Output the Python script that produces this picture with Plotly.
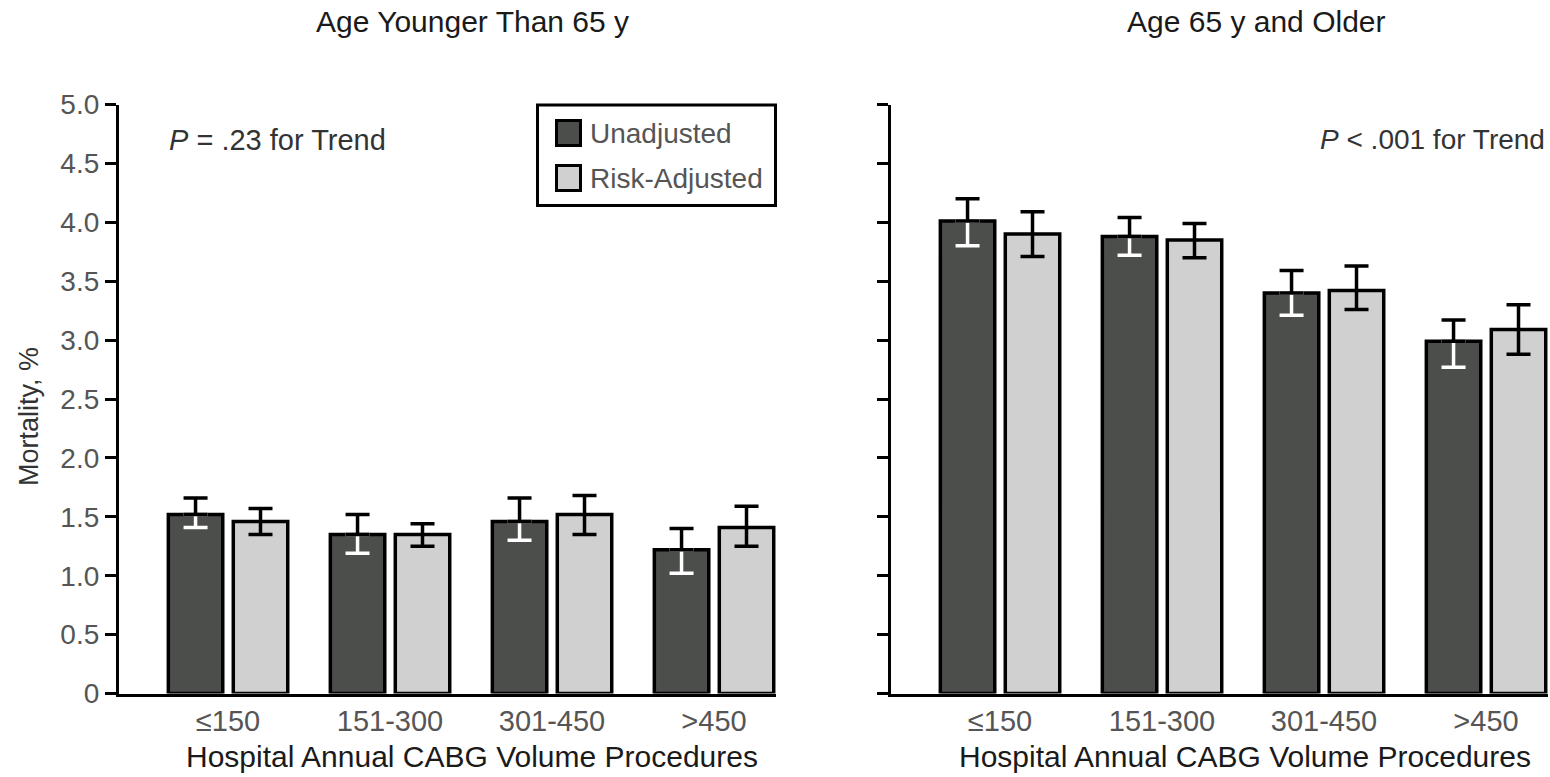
import plotly.graph_objects as go

# Hospital annual CABG volume categories
categories = ["≤150", "151-300", "301-450", ">450"]

# Mortality (%) with 95% CI, patients younger than 65 y
young_unadj = [1.52, 1.35, 1.46, 1.22]
young_unadj_lo = [1.41, 1.19, 1.30, 1.02]
young_unadj_hi = [1.66, 1.52, 1.66, 1.40]
young_risk = [1.46, 1.35, 1.52, 1.41]
young_risk_lo = [1.35, 1.25, 1.35, 1.25]
young_risk_hi = [1.57, 1.44, 1.68, 1.59]

# Mortality (%) with 95% CI, patients 65 y and older
old_unadj = [4.01, 3.88, 3.40, 2.99]
old_unadj_lo = [3.80, 3.72, 3.21, 2.77]
old_unadj_hi = [4.20, 4.04, 3.59, 3.17]
old_risk = [3.90, 3.85, 3.42, 3.09]
old_risk_lo = [3.71, 3.70, 3.26, 2.88]
old_risk_hi = [4.09, 3.99, 3.63, 3.30]

y_ticks = [0, 0.5, 1.0, 1.5, 2.0, 2.5, 3.0, 3.5, 4.0, 4.5, 5.0]
y_tick_text = ["0", "0.5", "1.0", "1.5", "2.0", "2.5", "3.0", "3.5", "4.0", "4.5", "5.0"]

DARK = "#4c4e4b"
LIGHT = "#d0d0d0"
FONT = "Liberation Sans, Arial, Helvetica, sans-serif"
W, H = 1550, 777

ERR_T = 3.5
ERR_W = 12
OUTLINE = 3.5


def px(x):
    return x / W


def py(y):
    return 1 - y / H


fig = go.Figure()


def add_panel(xa, ya, unadj, u_lo, u_hi, risk, r_lo, r_hi):
    # Unadjusted bars; the lower half of the CI is drawn in white inside the bar
    fig.add_trace(go.Bar(
        x=categories, y=unadj, xaxis=xa, yaxis=ya, offsetgroup="u",
        marker=dict(color=DARK, line=dict(color="black", width=OUTLINE)),
        error_y=dict(type="data", symmetric=False,
                     array=[0] * len(unadj),
                     arrayminus=[v - lo for v, lo in zip(unadj, u_lo)],
                     color="white", thickness=ERR_T, width=ERR_W),
        showlegend=False, hoverinfo="skip",
    ))
    # Upper half of the unadjusted CI in black (bar itself transparent)
    fig.add_trace(go.Bar(
        x=categories, y=unadj, xaxis=xa, yaxis=ya, offsetgroup="u",
        marker=dict(color="rgba(0,0,0,0)", line=dict(width=0)),
        error_y=dict(type="data", symmetric=False,
                     array=[hi - v for v, hi in zip(unadj, u_hi)],
                     arrayminus=[0] * len(unadj),
                     color="black", thickness=ERR_T, width=ERR_W),
        showlegend=False, hoverinfo="skip",
    ))
    # Risk-adjusted bars with black CI
    fig.add_trace(go.Bar(
        x=categories, y=risk, xaxis=xa, yaxis=ya, offsetgroup="r",
        marker=dict(color=LIGHT, line=dict(color="black", width=OUTLINE)),
        error_y=dict(type="data", symmetric=False,
                     array=[hi - v for v, hi in zip(risk, r_hi)],
                     arrayminus=[v - lo for v, lo in zip(risk, r_lo)],
                     color="black", thickness=ERR_T, width=ERR_W),
        showlegend=False, hoverinfo="skip",
    ))


add_panel("x", "y", young_unadj, young_unadj_lo, young_unadj_hi,
          young_risk, young_risk_lo, young_risk_hi)
add_panel("x2", "y2", old_unadj, old_unadj_lo, old_unadj_hi,
          old_risk, old_risk_lo, old_risk_hi)

x_range = [-0.673, 3.385]
y_dom = [py(693.5), py(104.5)]

xaxis_common = dict(
    range=x_range, showline=True, linecolor="black", linewidth=3.3,
    ticks="", showgrid=False, zeroline=False, automargin=False,
    tickfont=dict(family=FONT, size=29, color="#555555"),
    ticklabelstandoff=0, fixedrange=True,
)
yaxis_common = dict(
    range=[0, 5], showline=True, linecolor="black", linewidth=3.3,
    ticks="outside", ticklen=11, tickwidth=3.3, tickcolor="black",
    tickvals=y_ticks, ticktext=y_tick_text,
    showgrid=False, zeroline=False, automargin=False, domain=y_dom,
    tickfont=dict(family=FONT, size=28, color="#555555"), fixedrange=True,
)

fig.update_layout(
    width=W, height=H,
    margin=dict(l=0, r=0, t=0, b=0),
    paper_bgcolor="white", plot_bgcolor="white",
    barmode="group", bargap=0.198, bargroupgap=0.162,
    xaxis=dict(domain=[px(119), px(776.4)], anchor="y", **xaxis_common),
    yaxis=dict(anchor="x", **yaxis_common),
    xaxis2=dict(domain=[px(891), px(1548.4)], anchor="y2", **xaxis_common),
    yaxis2=dict(anchor="x2", showticklabels=False, **yaxis_common),
    showlegend=False,
)

annotations = []

# Panel titles
for text, xc in [("Age Younger Than 65 y", 472), ("Age 65 y and Older", 1256)]:
    annotations.append(dict(
        text=text, x=px(xc), y=py(22), xref="paper", yref="paper",
        xanchor="center", yanchor="middle", showarrow=False,
        font=dict(family=FONT, size=30, color="#1a1a1a"),
    ))

# Horizontal axis titles
for xc in [472, 1245]:
    annotations.append(dict(
        text="Hospital Annual CABG Volume Procedures", x=px(xc), y=py(775),
        xref="paper", yref="paper", xanchor="center", yanchor="bottom",
        showarrow=False, font=dict(family=FONT, size=30, color="#1a1a1a"),
    ))

# Vertical axis title
annotations.append(dict(
    text="Mortality, %", x=px(29), y=py(417), xref="paper", yref="paper",
    xanchor="center", yanchor="middle", textangle=-90, showarrow=False,
    font=dict(family=FONT, size=27, color="#333333"),
))

# Trend test annotations
annotations.append(dict(
    text="<i>P</i> = .23 for Trend", x=px(167), y=py(140), xref="paper",
    yref="paper", xanchor="left", yanchor="middle", showarrow=False,
    font=dict(family=FONT, size=29, color="#333333"),
))
annotations.append(dict(
    text="<i>P</i> < .001 for Trend", x=px(1547), y=py(140), xref="paper",
    yref="paper", xanchor="right", yanchor="middle", showarrow=False,
    font=dict(family=FONT, size=28, color="#333333"),
))

# Legend entries
legend_items = [("Unadjusted", DARK, 133), ("Risk-Adjusted", LIGHT, 178)]
for label, color, yc in legend_items:
    annotations.append(dict(
        text=label, x=px(588), y=py(yc), xref="paper", yref="paper",
        xanchor="left", yanchor="middle", showarrow=False,
        font=dict(family=FONT, size=28, color="#555555"),
    ))

fig.update_layout(annotations=annotations)

shapes = [
    # legend frame
    dict(type="rect", xref="paper", yref="paper",
         x0=px(537.5), x1=px(775.5), y0=py(205.5), y1=py(105),
         line=dict(color="black", width=3), fillcolor="white", layer="above"),
]
for label, color, yc in legend_items:
    shapes.append(dict(
        type="rect", xref="paper", yref="paper",
        x0=px(556.5), x1=px(580.5), y0=py(yc + 12.5), y1=py(yc - 12.5),
        line=dict(color="black", width=3), fillcolor=color, layer="above",
    ))
fig.update_layout(shapes=shapes)

fig.write_html("out.html")
